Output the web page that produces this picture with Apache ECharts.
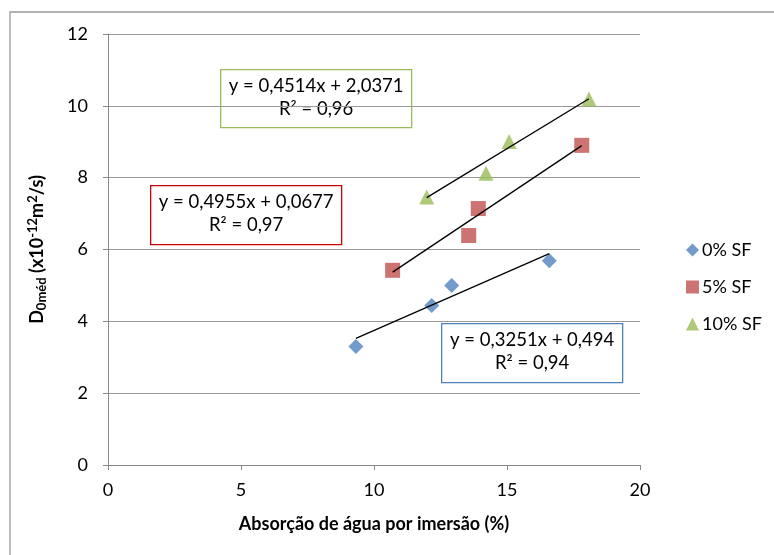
<!DOCTYPE html>
<html>
<head>
<meta charset="utf-8">
<script src="https://cdn.jsdelivr.net/npm/echarts@6/dist/echarts.min.js"></script>
<style>
  html, body { margin: 0; padding: 0; background: #fff; }
  #chart { width: 774px; height: 555px; }
</style>
</head>
<body>
<div id="chart"></div>
<script>
// dados
const sf0 = [[9.32, 3.30], [12.17, 4.44], [12.92, 5.00], [16.59, 5.69]]
const sf5 = [[10.70, 5.42], [13.56, 6.39], [13.92, 7.14], [17.81, 8.90]]
const sf10 = [[11.98, 7.46], [14.21, 8.12], [15.08, 9.01], [18.08, 10.19]]
// linhas de tendência (coeficientes do Excel)
const fit0 = [0.3251, 0.494]
const fit5 = [0.4955, 0.0677]
const fit10 = [0.4514, 2.0371]
const seriesNames = ['0% SF', '5% SF', '10% SF']
const fitLabels = [
  ['y = 0,3251x + 0,494', 'R² = 0,94'],
  ['y = 0,4955x + 0,0677', 'R² = 0,97'],
  ['y = 0,4514x + 2,0371', 'R² = 0,96']
]

const font = 'Lato, "Open Sans", sans-serif'

// linha de tendência do menor ao maior x da série
const trend = (pts, fit) => {
  let xs = pts.map(p => p[0])
  let a = Math.min(...xs), b = Math.max(...xs)
  return [[a, fit[0] * a + fit[1]], [b, fit[0] * b + fit[1]]]
}

// caixa com a equação
const eqBox = (x, y, w, h, color, lines) => ({
  type: 'group', left: x, top: y,
  children: [
    { type: 'rect', shape: { x: 0, y: 0, width: w, height: h },
      style: { fill: '#fff', stroke: color, lineWidth: 1.3 } },
    { type: 'text', x: w / 2, y: 5,
      style: { text: lines.join('\n'), align: 'center', font: '18.5px ' + font, fill: '#000', lineHeight: 23 } }
  ]
})

const myChart = echarts.init(document.getElementById('chart'))

const option = {
  animation: false,
  textStyle: { fontFamily: font },
  grid: { left: 108, right: 134, top: 34, bottom: 90 },
  legend: {
    orient: 'vertical',
    left: 681,
    top: 236,
    itemGap: 19,
    itemWidth: 13,
    itemHeight: 13,
    textStyle: { fontSize: 18, color: '#000', padding: [0, 0, 0, -2] },
    data: [
      { name: '0% SF', icon: 'diamond' },
      { name: '5% SF', icon: 'rect' },
      { name: '10% SF', icon: 'triangle' }
    ]
  },
  xAxis: {
    type: 'value', min: 0, max: 20, interval: 5,
    name: 'Absorção de água por imersão (%)',
    nameLocation: 'middle', nameGap: 50,
    nameTextStyle: { fontSize: 18, fontWeight: 'bold', color: '#000' },
    axisLine: { lineStyle: { color: '#888' } },
    axisTick: { lineStyle: { color: '#888' }, length: 5 },
    axisLabel: { fontSize: 18, color: '#000', margin: 16 },
    splitLine: { show: false }
  },
  yAxis: {
    type: 'value', min: 0, max: 12, interval: 2,
    name: '{b|D}{sub|0méd}{b| (x10}{sup|-12}{b|m}{sup|2}{b|/s)}',
    nameLocation: 'middle', nameGap: 60, nameRotate: 90,
    nameTextStyle: {
      rich: {
        b: { fontSize: 18, fontWeight: 'bold', color: '#000', fontFamily: font },
        sub: { fontSize: 13, fontWeight: 'bold', color: '#000', fontFamily: font, verticalAlign: 'bottom', padding: [9, 0, 0, 0] },
        sup: { fontSize: 13, fontWeight: 'bold', color: '#000', fontFamily: font, verticalAlign: 'top', padding: [0, 0, 9, 0] }
      }
    },
    axisLine: { show: true, lineStyle: { color: '#888' } },
    axisTick: { show: true, lineStyle: { color: '#888' }, length: 5 },
    axisLabel: { fontSize: 18, color: '#000', margin: 20 },
    splitLine: { lineStyle: { color: '#999', width: 1 } }
  },
  series: [
    { name: '0% SF', type: 'scatter', data: sf0, symbol: 'diamond', symbolSize: 15,
      itemStyle: { color: '#4f81bd' }, z: 3 },
    { name: '5% SF', type: 'scatter', data: sf5, symbol: 'rect', symbolSize: 15,
      itemStyle: { color: '#c0504d' }, z: 3 },
    { name: '10% SF', type: 'scatter', data: sf10, symbol: 'triangle', symbolSize: 15,
      itemStyle: { color: '#9bbb59' }, z: 3 },
    { type: 'line', data: trend(sf0, fit0), symbol: 'none', lineStyle: { color: '#000', width: 1.3 }, z: 4, silent: true },
    { type: 'line', data: trend(sf5, fit5), symbol: 'none', lineStyle: { color: '#000', width: 1.3 }, z: 4, silent: true },
    { type: 'line', data: trend(sf10, fit10), symbol: 'none', lineStyle: { color: '#000', width: 1.3 }, z: 4, silent: true }
  ],
  graphic: [
    { type: 'rect', shape: { x: 10, y: 12, width: 800, height: 600 },
      style: { fill: 'none', stroke: '#999', lineWidth: 1.3 }, silent: true },
    eqBox(220, 69, 191, 58, '#9bbb59', fitLabels[2]),
    eqBox(150, 185, 191, 59, '#cc0000', fitLabels[1]),
    eqBox(441, 323, 181, 59, '#4f81bd', fitLabels[0])
  ]
}

myChart.setOption(option, true)
window.onresize = myChart.resize
</script>
</body>
</html>
